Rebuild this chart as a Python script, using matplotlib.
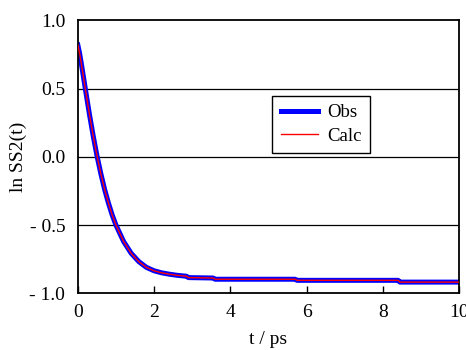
import matplotlib
matplotlib.use("Agg")
import matplotlib.pyplot as plt
from matplotlib.ticker import FuncFormatter

plt.rcParams['font.family'] = ['Liberation Serif', 'DejaVu Serif']

# 読み取った曲線 (t / ps, ln SS2(t))
t_obs = [0.0, 0.05, 0.1, 0.2, 0.3, 0.4, 0.5, 0.6, 0.7, 0.8, 0.9, 1.0, 1.2,
         1.4, 1.6, 1.8, 2.0, 2.2, 2.4, 2.6, 2.85, 2.9, 3.55, 3.6,
         5.7, 5.75, 8.4, 8.45, 10.0]
y_obs = [0.82, 0.753, 0.669, 0.493, 0.319, 0.158, 0.011, -0.119, -0.236, -0.336,
         -0.425, -0.5, -0.62, -0.707, -0.768, -0.81, -0.835, -0.85, -0.86, -0.868,
         -0.875, -0.885, -0.888, -0.897, -0.897, -0.905, -0.905, -0.918, -0.918]
t_calc = t_obs
y_calc = y_obs

x_ticks = [0, 2, 4, 6, 8, 10]
y_ticks = [-1.0, -0.5, 0.0, 0.5, 1.0]
grid_y = [-0.5, 0.0, 0.5]

fs = 14

fig = plt.figure(figsize=(4.66, 3.5), dpi=100)
ax = fig.add_axes([0.167, 0.162, 0.818, 0.78])

for g in grid_y:
    ax.axhline(g, color='black', lw=0.9, zorder=1)

ax.plot(t_obs, y_obs, color='#0000ff', lw=3.6, label='Obs', zorder=2)
ax.plot(t_calc, y_calc, color='#ff0000', lw=1.0, label='Calc', zorder=3)

ax.set_xlim(0, 10)
ax.set_ylim(-1.0, 1.0)
ax.set_xticks(x_ticks)
ax.set_yticks(y_ticks)


def fmt_y(v, pos):
    s = f"{abs(v):.1f}"
    return f"- {s}" if v < 0 else s


ax.yaxis.set_major_formatter(FuncFormatter(fmt_y))
ax.tick_params(axis='x', direction='in', length=5, width=1, labelsize=fs, pad=8)
ax.tick_params(axis='y', direction='in', length=0, labelsize=fs, pad=9)
for sp in ax.spines.values():
    sp.set_linewidth(1.3)
    sp.set_color('black')

ax.set_xlabel('t / ps', fontsize=fs, labelpad=7)
ax.set_ylabel('ln SS2(t)', fontsize=fs)
ax.yaxis.set_label_coords(-0.157, 0.5)
ax.yaxis.label.set_va('center')

leg = ax.legend(loc='upper left', bbox_to_anchor=(0.51, 0.724), fontsize=fs - 0.5,
                frameon=True, fancybox=False, handlelength=2.0, handletextpad=0.5,
                borderpad=0.45, labelspacing=0.35, borderaxespad=0)
leg.get_frame().set_edgecolor('black')
leg.get_frame().set_linewidth(1.0)
leg.get_frame().set_alpha(1)

fig.savefig('out.png', dpi=100)
